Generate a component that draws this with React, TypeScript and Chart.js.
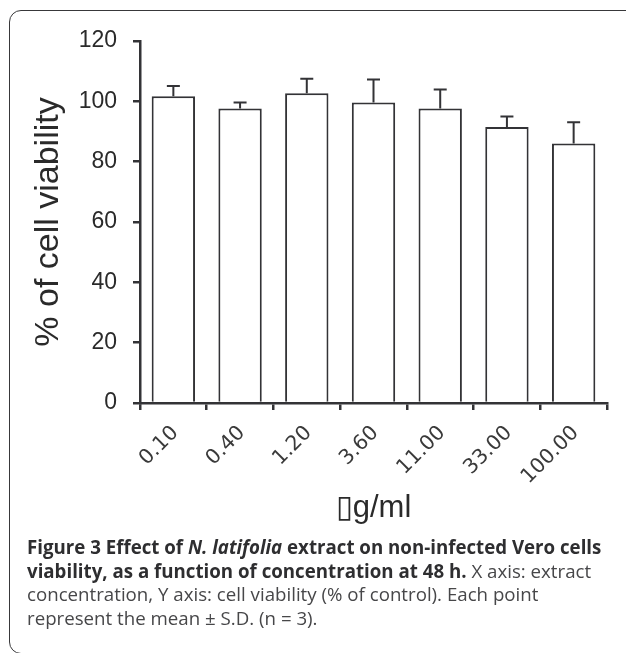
import { useEffect, useRef } from 'react';
import { Chart, registerables } from 'chart.js';

Chart.register(...registerables);

const categories = ['0.10', '0.40', '1.20', '3.60', '11.00', '33.00', '100.00'];
const viability = [101.7, 97.6, 102.7, 99.6, 97.6, 91.5, 86.0];
const sd = [3.4, 2.0, 4.8, 7.6, 6.3, 3.5, 7.1];
const yMin = 0;
const yMax = 120;
const yStep = 20;
const yTitle = '% of cell viability';
const xTitle = '\u25AFg/ml';

const INK = '#333336';

const errorBars = {
  id: 'errorBars',
  afterDatasetsDraw(chart: any) {
    const meta = chart.getDatasetMeta(0);
    const yScale = chart.scales.y;
    const ctx = chart.ctx;
    ctx.save();
    ctx.strokeStyle = INK;
    ctx.lineWidth = 2;
    meta.data.forEach((bar: any, i: number) => {
      const top = yScale.getPixelForValue(viability[i] + sd[i]);
      const x = bar.x;
      ctx.beginPath();
      ctx.moveTo(x, bar.y);
      ctx.lineTo(x, top);
      ctx.moveTo(x - 6.5, top);
      ctx.lineTo(x + 6.5, top);
      ctx.stroke();
    });
    ctx.restore();
  },
};

export default function App() {
  const canvasRef = useRef<HTMLCanvasElement | null>(null);

  useEffect(() => {
    if (!canvasRef.current) return;
    const chart = new Chart(canvasRef.current, {
      type: 'bar',
      data: {
        labels: categories,
        datasets: [
          {
            data: viability,
            backgroundColor: '#ffffff',
            borderColor: INK,
            borderWidth: 2,
            barPercentage: 0.65,
            categoryPercentage: 1,
          },
        ],
      },
      options: {
        animation: false,
        responsive: false,
        maintainAspectRatio: false,
        devicePixelRatio: 1,
        layout: { padding: { top: 41, right: 19, left: 0, bottom: 0 } },
        plugins: {
          legend: { display: false },
          tooltip: { enabled: false },
          title: { display: false },
        },
        scales: {
          x: {
            afterFit(scale: any) {
              scale.height = 137;
            },
            grid: {
              display: true,
              offset: true,
              drawOnChartArea: false,
              drawTicks: true,
              tickLength: 7,
              color: INK,
              lineWidth: 2.5,
            },
            border: { display: true, color: INK, width: 2.5 },
            ticks: {
              autoSkip: false,
              maxRotation: 45,
              minRotation: 45,
              padding: 11,
              labelOffset: 2,
              color: '#3a3a3a',
              font: { family: '"DejaVu Sans", sans-serif', size: 20.5 },
            },
            title: {
              display: true,
              text: xTitle,
              color: '#2a2a2a',
              font: { family: '"Liberation Sans", Arial, sans-serif', size: 31 },
              padding: { top: 0, bottom: 13 },
            },
          },
          y: {
            min: yMin,
            max: yMax,
            afterFit(scale: any) {
              scale.width = 140;
            },
            grid: {
              display: true,
              drawOnChartArea: false,
              drawTicks: true,
              tickLength: 7,
              color: INK,
              lineWidth: 2.5,
            },
            border: { display: true, color: INK, width: 2.5 },
            ticks: {
              stepSize: yStep,
              padding: 16,
              color: '#2a2a2a',
              font: { family: '"Liberation Sans", Arial, sans-serif', size: 23 },
            },
            title: {
              display: true,
              text: yTitle,
              color: '#2a2a2a',
              font: { family: '"Liberation Sans", Arial, sans-serif', size: 34 },
              padding: { top: 28, bottom: 0 },
            },
          },
        },
      },
      plugins: [errorBars],
    });
    return () => chart.destroy();
  }, []);

  const bold: React.CSSProperties = { fontWeight: 700, color: '#2e2e30' };
  return (
    <div
      style={{
        position: 'fixed',
        left: 0,
        top: 0,
        width: 626,
        height: 653,
        background: '#ffffff',
        overflow: 'hidden',
      }}
    >
      <div
        style={{
          position: 'absolute',
          left: 9,
          top: 10,
          width: 700,
          height: 644,
          border: '1.6px solid #38383a',
          borderRadius: 12,
          boxSizing: 'border-box',
        }}
      />
      <canvas
        ref={canvasRef}
        width={626}
        height={540}
        style={{ position: 'absolute', left: 0, top: 0, width: 626, height: 540 }}
      />
      <div
        style={{
          position: 'absolute',
          left: 27,
          top: 535,
          fontFamily: '"Open Sans", sans-serif',
          fontSize: 18.7,
          lineHeight: '23.5px',
          color: '#474749',
          whiteSpace: 'nowrap',
        }}
      >
        <span style={bold}>
          Figure 3 Effect of <i>N. latifolia</i> extract on non-infected Vero cells
        </span>
        <br />
        <span style={bold}>viability, as a function of concentration at 48 h.</span> X axis: extract
        <br />
        concentration, Y axis: cell viability (% of control). Each point
        <br />
        represent the mean ± S.D. (n = 3).
      </div>
    </div>
  );
}
